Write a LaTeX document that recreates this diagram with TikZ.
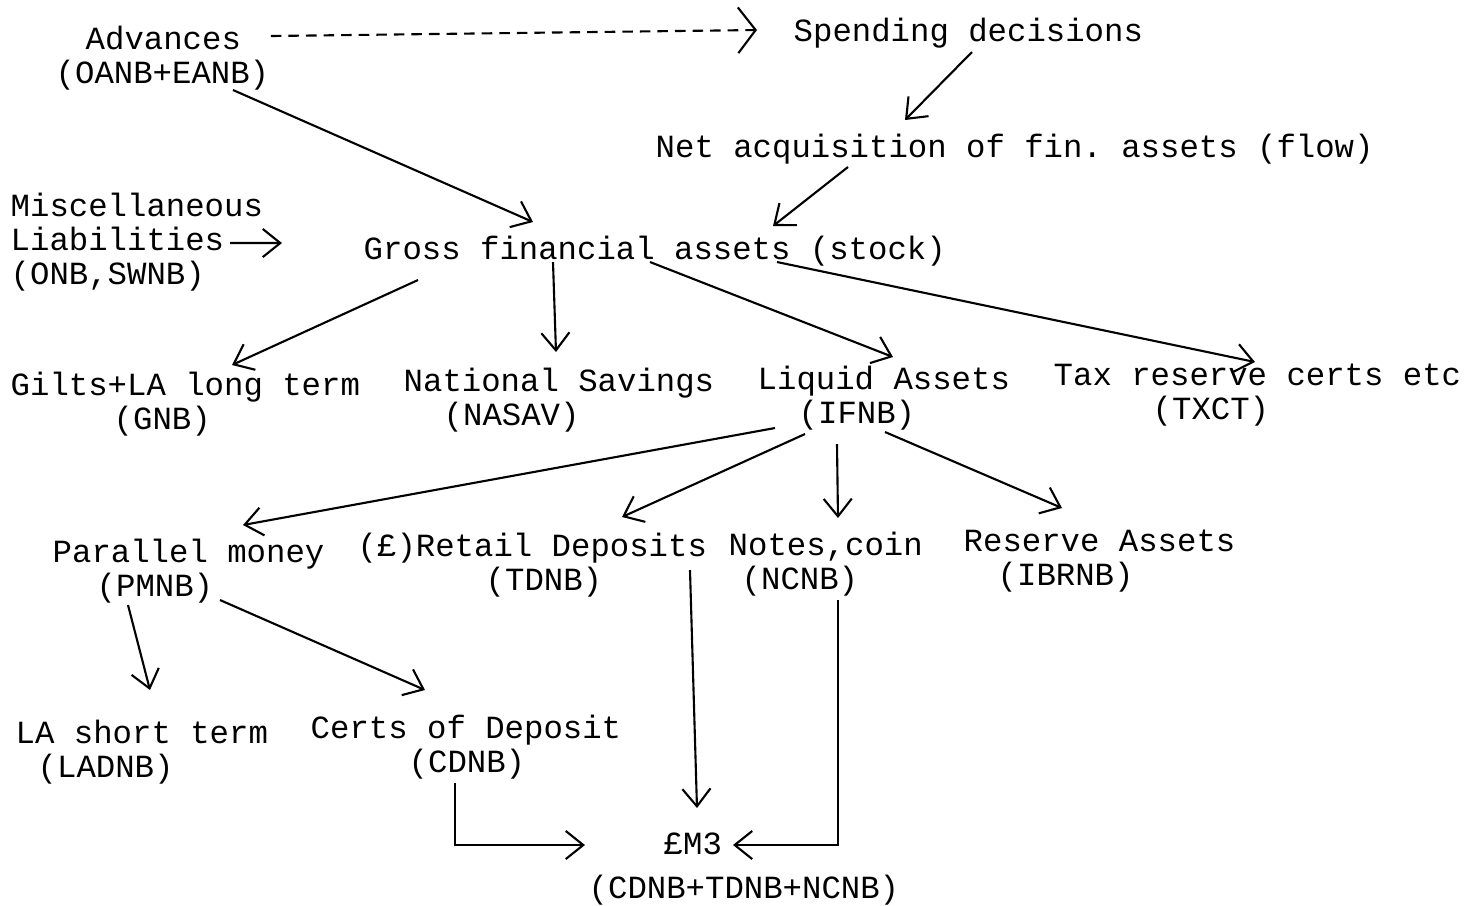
\documentclass[tikz,border=0pt]{standalone}
\usepackage{fontspec}
\setmonofont{Liberation Mono}
\usetikzlibrary{arrows.meta}

\begin{document}
\begin{tikzpicture}[
  lbl/.style={anchor=north west, inner sep=0pt, align=left,
    font=\ttfamily\fontsize{9.2}{9.7}\selectfont},
  arr/.style={-{Straight Barb[length=5pt,width=8pt]}, line width=0.6pt},
  dasharr/.style={-{Straight Barb[length=5pt,width=13pt]}, line width=0.6pt,
    dash pattern=on 3pt off 2pt}
]
%\draw[help lines] (0,0) grid (15,-9);
\useasboundingbox (0,0) rectangle (14.71,-9.05);

% top
\node[lbl] (adv) at (0.55,-0.25) {\hspace*{0.30cm}Advances\\(OANB+EANB)};
\node[lbl] (spend) at (7.93,-0.17) {Spending decisions};
\node[lbl] (net) at (6.55,-1.33) {Net acquisition of fin. assets (flow)};
\node[lbl] (misc) at (0.10,-1.92) {Miscellaneous\\Liabilities\\(ONB,SWNB)};
\node[lbl] (gross) at (3.63,-2.35) {Gross financial assets (stock)};

% second row
\node[lbl] (gilts) at (0.10,-3.71) {Gilts+LA long term\\\hspace*{1.03cm}(GNB)};
\node[lbl] (natsav) at (4.03,-3.67) {National Savings\\\hspace*{0.40cm}(NASAV)};
\node[lbl] (liquid) at (7.57,-3.65) {Liquid Assets\\\hspace*{0.41cm}(IFNB)};
\node[lbl] (tax) at (10.53,-3.63) {Tax reserve certs etc\\\hspace*{0.99cm}(TXCT)};

% third row
\node[lbl] (parallel) at (0.52,-5.38) {Parallel money\\\hspace*{0.44cm}(PMNB)};
\node[lbl] (retail) at (3.57,-5.32) {(£)Retail Deposits\\\hspace*{1.28cm}(TDNB)};
\node[lbl] (notes) at (7.28,-5.31) {Notes,coin\\\hspace*{0.13cm}(NCNB)};
\node[lbl] (reserve) at (9.63,-5.29) {Reserve Assets\\\hspace*{0.34cm}(IBRNB)};

% bottom
\node[lbl] (lashort) at (0.15,-7.19) {LA short term\\\hspace*{0.22cm}(LADNB)};
\node[lbl] (certs) at (3.10,-7.14) {Certs of Deposit\\\hspace*{0.98cm}(CDNB)};
\node[lbl] (mthree) at (5.88,-8.32) {\hspace*{0.75cm}£M3\\[3pt](CDNB+TDNB+NCNB)};

\draw[dasharr] ([shift={(0.01,-0.11)}]adv.north east) -- ([shift={(-0.36,-0.13)}]spend.north west);
\draw[arr] ([shift={(1.79,-0.35)}]spend.north west) -- ([shift={(2.50,0.13)}]net.north west);
\draw[arr] ([shift={(1.93,-0.34)}]net.north west) -- ([shift={(4.10,0.09)}]gross.north west);
\draw[arr] ([shift={(1.78,-0.65)}]adv.north west) -- ([shift={(1.70,0.13)}]gross.north west);
\draw[arr] ([shift={(2.20,-0.51)}]misc.north west) -- ([shift={(-0.81,-0.08)}]gross.north west);

\draw[arr] ([shift={(0.55,-0.45)}]gross.north west) -- ([shift={(2.22,0.06)}]gilts.north west);
\draw[arr] ([shift={(1.90,-0.27)}]gross.north west) -- ([shift={(1.53,0.15)}]natsav.north west);
\draw[arr] ([shift={(2.87,-0.27)}]gross.north west) -- ([shift={(1.36,0.08)}]liquid.north west);
\draw[arr] ([shift={(4.14,-0.27)}]gross.north west) -- ([shift={(2.02,0.01)}]tax.north west);

\draw[arr] ([shift={(0.18,-0.63)}]liquid.north west) -- ([shift={(1.91,0.13)}]parallel.north west);
\draw[arr] ([shift={(0.48,-0.69)}]liquid.north west) -- ([shift={(2.65,0.15)}]retail.north west);
\draw[arr] ([shift={(0.80,-0.79)}]liquid.north west) -- ([shift={(1.10,0.13)}]notes.north west);
\draw[arr] ([shift={(1.28,-0.67)}]liquid.north west) -- ([shift={(0.99,0.21)}]reserve.north west);

\draw[arr] ([shift={(0.76,-0.67)}]parallel.north west) -- ([shift={(1.35,0.29)}]lashort.north west);
\draw[arr] ([shift={(1.68,-0.62)}]parallel.north west) -- ([shift={(1.15,0.24)}]certs.north west);

\draw[arr] ([shift={(3.33,-0.38)}]retail.north west) -- ([shift={(1.09,0.24)}]mthree.north west);
\draw[arr] ([shift={(1.10,-0.69)}]notes.north west) |- ([shift={(1.45,-0.13)}]mthree.north west);
\draw[arr] ([shift={(1.45,-0.69)}]certs.north west) |- ([shift={(-0.03,-0.13)}]mthree.north west);

\end{tikzpicture}
\end{document}
